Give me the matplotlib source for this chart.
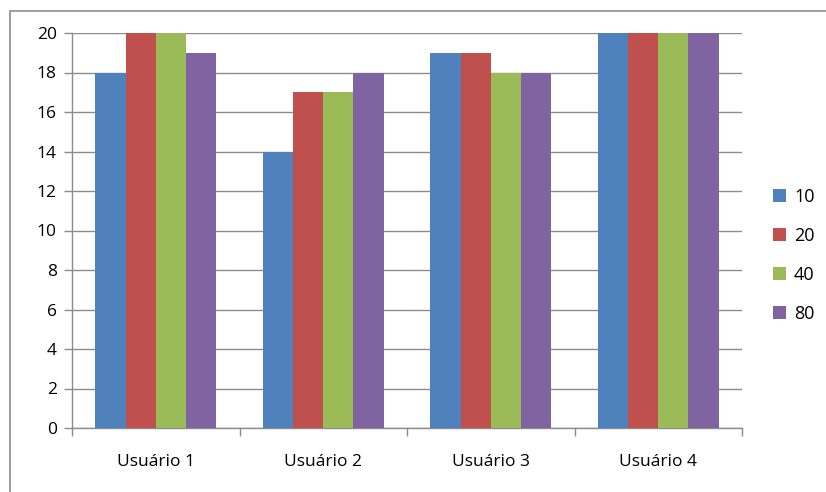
import numpy as np
import matplotlib.pyplot as plt
from matplotlib.patches import Rectangle

categories = ['Usuário 1', 'Usuário 2', 'Usuário 3', 'Usuário 4']
series_names = ['10', '20', '40', '80']
series_values = {
    '10': [18, 14, 19, 20],
    '20': [20, 17, 19, 20],
    '40': [20, 17, 18, 20],
    '80': [19, 18, 18, 20],
}
colors = ['#4F81BD', '#C0504D', '#9BBB59', '#8064A2']
yticks = [0, 2, 4, 6, 8, 10, 12, 14, 16, 18, 20]

plt.rcParams['font.family'] = ['Open Sans', 'DejaVu Sans']

fig = plt.figure(figsize=(8.26, 4.92), dpi=100)
W, H = 826, 492
ax = fig.add_axes([72 / W, 1 - 428 / H, (742 - 72) / W, (428 - 33) / H])

# outer chart border
fig.patches.append(Rectangle((10 / W, -0.01), 1.0, 1 - 11 / H + 0.01,
                             transform=fig.transFigure, fill=False,
                             edgecolor='#8c8c8c', linewidth=1.2))

x = np.arange(len(categories))
bw = 0.18
for i, name in enumerate(series_names):
    ax.bar(x + (i - 1.5) * bw, series_values[name], width=bw,
           color=colors[i], label=name, zorder=3, linewidth=0)

ax.set_xlim(-0.5, len(categories) - 0.5)
ax.set_ylim(0, 20)
ax.set_yticks(yticks)
ax.set_xticks(x)
ax.set_xticklabels(categories, fontsize=12.5)
ax.set_xticks(np.arange(len(categories) + 1) - 0.5, minor=True)
ax.tick_params(axis='x', which='major', length=0, pad=19)
ax.tick_params(axis='x', which='minor', length=6, color='#8c8c8c', width=1)
ax.tick_params(axis='y', length=6, color='#8c8c8c', width=1, labelsize=12.5, pad=5)
ax.yaxis.grid(True, color='#8c8c8c', linewidth=1, zorder=0)
ax.set_axisbelow(True)
for s in ['top', 'right']:
    ax.spines[s].set_visible(False)
for s in ['left', 'bottom']:
    ax.spines[s].set_color('#8c8c8c')
    ax.spines[s].set_linewidth(1)

ax.legend(loc='center left', bbox_to_anchor=(1.022, 0.437), frameon=False,
          fontsize=13, handlelength=0.72, handleheight=0.72, handletextpad=0.45,
          labelspacing=1.15)

fig.savefig('out.png', dpi=100)
